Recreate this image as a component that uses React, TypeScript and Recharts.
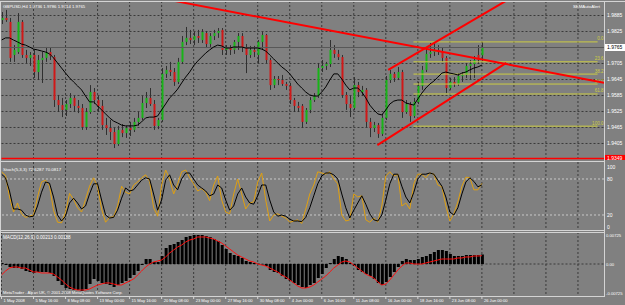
import React from 'react';
import { ComposedChart, Bar, Line, XAxis, YAxis, CartesianGrid, ReferenceLine } from 'recharts';

const FONT = '"Liberation Sans", Arial, sans-serif';
const BG = '#808080';
const GRID = '#3a3a3a';
const FRAME = '#d4d4d4';
const TXT = '#ffffff';
const UP = '#18b418';
const DOWN = '#d01818';
const WICK = '#303030';
const FIB = '#cccc44';

// ---------------- price data (GBPUSD H4, one candle per 8h sample) ----------------
const opens = [
  1.9868, 1.9876, 1.9861, 1.9737, 1.9748, 1.9861, 1.9737, 1.9726, 1.9737, 1.9673,
  1.9718, 1.9726, 1.9748, 1.9729, 1.9568, 1.9549, 1.9531, 1.9553, 1.9576, 1.9546,
  1.9538, 1.9467, 1.9523, 1.9598, 1.9568, 1.9546, 1.9474, 1.9463, 1.9448, 1.9403,
  1.9456, 1.9444, 1.9463, 1.9456, 1.9486, 1.9501, 1.9557, 1.9576, 1.9553, 1.9471,
  1.9493, 1.9666, 1.9681, 1.9673, 1.9636, 1.9711, 1.9786, 1.9801, 1.9793, 1.9808,
  1.9793, 1.9819, 1.9778, 1.9808, 1.9819, 1.9831, 1.9756, 1.9763, 1.9756, 1.9786,
  1.9808, 1.9763, 1.9737, 1.9756, 1.9737, 1.9786, 1.9812, 1.9718, 1.9624, 1.9647,
  1.9643, 1.9628, 1.9621, 1.9568, 1.9546, 1.9546, 1.9486, 1.9531, 1.9568, 1.9583,
  1.9688, 1.9696, 1.9703, 1.9756, 1.9741, 1.9729, 1.9587, 1.9553, 1.9538, 1.9624,
  1.9598, 1.9606, 1.9486, 1.9463, 1.9474, 1.9441, 1.9501, 1.9643, 1.9666, 1.9651,
  1.9673, 1.9523, 1.9553, 1.9508, 1.9561, 1.9621, 1.9681, 1.9741, 1.9748, 1.9756,
  1.9748, 1.9726, 1.9613, 1.9636, 1.9628, 1.9658, 1.9662, 1.9696, 1.9703, 1.9737,
  1.9736,
];
const highs = [
  1.9898, 1.9906, 1.9876, 1.9774, 1.9894, 1.9868, 1.9756, 1.9748, 1.9756, 1.9737,
  1.9748, 1.9767, 1.9763, 1.9737, 1.9587, 1.9576, 1.9568, 1.9594, 1.9583, 1.9568,
  1.9553, 1.9538, 1.9624, 1.9613, 1.9583, 1.9568, 1.9501, 1.9493, 1.9463, 1.9471,
  1.9478, 1.9471, 1.9486, 1.9501, 1.9523, 1.9583, 1.9598, 1.9613, 1.9568, 1.9501,
  1.9688, 1.9696, 1.9711, 1.9688, 1.9726, 1.9808, 1.9842, 1.9831, 1.9823, 1.9831,
  1.9834, 1.9827, 1.9819, 1.9831, 1.9838, 1.9838, 1.9774, 1.9774, 1.9793, 1.9819,
  1.9819, 1.9778, 1.9771, 1.9771, 1.9793, 1.9823, 1.9816, 1.9726, 1.9658, 1.9658,
  1.9662, 1.9636, 1.9632, 1.9576, 1.9561, 1.9553, 1.9538, 1.9579, 1.9594, 1.9707,
  1.9718, 1.9711, 1.9793, 1.9774, 1.9756, 1.9737, 1.9598, 1.9583, 1.9654, 1.9636,
  1.9621, 1.9613, 1.9501, 1.9486, 1.9482, 1.9516, 1.9658, 1.9681, 1.9673, 1.9692,
  1.9681, 1.9568, 1.9561, 1.9576, 1.9636, 1.9696, 1.9763, 1.9782, 1.9786, 1.9774,
  1.9763, 1.9733, 1.9651, 1.9654, 1.9669, 1.9673, 1.9707, 1.9718, 1.9733, 1.9774,
  1.9786,
];
const lows = [
  1.9853, 1.9861, 1.9711, 1.9711, 1.9741, 1.9726, 1.9707, 1.9696, 1.9651, 1.9643,
  1.9632, 1.9711, 1.9718, 1.9542, 1.9523, 1.9504, 1.9508, 1.9538, 1.9523, 1.9519,
  1.9456, 1.9456, 1.9516, 1.9553, 1.9523, 1.9456, 1.9437, 1.9418, 1.9388, 1.9396,
  1.9429, 1.9426, 1.9433, 1.9448, 1.9471, 1.9493, 1.9538, 1.9546, 1.9456, 1.9459,
  1.9486, 1.9651, 1.9658, 1.9621, 1.9628, 1.9703, 1.9774, 1.9778, 1.9774, 1.9782,
  1.9782, 1.9763, 1.9767, 1.9793, 1.9801, 1.9737, 1.9737, 1.9737, 1.9741, 1.9756,
  1.9748, 1.9669, 1.9726, 1.9729, 1.9707, 1.9756, 1.9707, 1.9606, 1.9613, 1.9624,
  1.9621, 1.9606, 1.9553, 1.9523, 1.9523, 1.9463, 1.9478, 1.9519, 1.9561, 1.9576,
  1.9673, 1.9681, 1.9692, 1.9726, 1.9718, 1.9576, 1.9531, 1.9504, 1.9531, 1.9579,
  1.9583, 1.9467, 1.9429, 1.9448, 1.9426, 1.9433, 1.9493, 1.9632, 1.9636, 1.9643,
  1.9501, 1.9516, 1.9486, 1.9501, 1.9553, 1.9606, 1.9673, 1.9726, 1.9733, 1.9737,
  1.9711, 1.9594, 1.9606, 1.9617, 1.9621, 1.9636, 1.9651, 1.9643, 1.9651, 1.9703,
  1.9714,
];
const closes = [
  1.9876, 1.9868, 1.9726, 1.9756, 1.9861, 1.9737, 1.9726, 1.9737, 1.9673, 1.9718,
  1.9726, 1.9748, 1.9733, 1.9568, 1.9549, 1.9531, 1.9553, 1.9576, 1.9546, 1.9538,
  1.9467, 1.9523, 1.9598, 1.9568, 1.9546, 1.9474, 1.9463, 1.9448, 1.9403, 1.9456,
  1.9444, 1.9463, 1.9456, 1.9486, 1.9501, 1.9557, 1.9576, 1.9553, 1.9471, 1.9493,
  1.9666, 1.9681, 1.9673, 1.9636, 1.9711, 1.9786, 1.9801, 1.9793, 1.9808, 1.9801,
  1.9823, 1.9778, 1.9808, 1.9819, 1.9827, 1.9756, 1.9763, 1.9756, 1.9786, 1.9808,
  1.9763, 1.9737, 1.9756, 1.9748, 1.9786, 1.9812, 1.9718, 1.9624, 1.9647, 1.9643,
  1.9628, 1.9621, 1.9568, 1.9546, 1.9538, 1.9486, 1.9531, 1.9568, 1.9583, 1.9688,
  1.9696, 1.9703, 1.9756, 1.9741, 1.9729, 1.9587, 1.9553, 1.9538, 1.9624, 1.9598,
  1.9606, 1.9486, 1.9463, 1.9474, 1.9441, 1.9501, 1.9643, 1.9666, 1.9651, 1.9673,
  1.9523, 1.9553, 1.9508, 1.9561, 1.9621, 1.9681, 1.9741, 1.9748, 1.9756, 1.9748,
  1.9726, 1.9613, 1.9636, 1.9628, 1.9658, 1.9662, 1.9696, 1.9703, 1.9718, 1.9718,
  1.9765,
];
const maVals = [
  1.9793, 1.9801, 1.9801, 1.9793, 1.9786, 1.9778, 1.9774, 1.9767, 1.9759, 1.9756,
  1.9752, 1.9748, 1.9741, 1.9726, 1.9707, 1.9688, 1.9669, 1.9651, 1.9636, 1.9621,
  1.9606, 1.9583, 1.9561, 1.9561, 1.9546, 1.9531, 1.9516, 1.9501, 1.9489, 1.9482,
  1.9474, 1.9471, 1.9471, 1.9471, 1.9474, 1.9486, 1.9501, 1.9504, 1.9504, 1.9508,
  1.9531, 1.9553, 1.9576, 1.9591, 1.9609, 1.9632, 1.9654, 1.9673, 1.9696, 1.9714,
  1.9729, 1.9744, 1.9756, 1.9767, 1.9774, 1.9771, 1.9763, 1.9763, 1.9767, 1.9767,
  1.9767, 1.9763, 1.9763, 1.9763, 1.9763, 1.9759, 1.9752, 1.9737, 1.9722, 1.9707,
  1.9692, 1.9681, 1.9666, 1.9647, 1.9628, 1.9613, 1.9598, 1.9587, 1.9583, 1.9583,
  1.9598, 1.9617, 1.9643, 1.9666, 1.9666, 1.9647, 1.9624, 1.9606, 1.9613, 1.9613,
  1.9598, 1.9576, 1.9549, 1.9531, 1.9516, 1.9512, 1.9531, 1.9553, 1.9564, 1.9568,
  1.9568, 1.9557, 1.9553, 1.9549, 1.9572, 1.9594, 1.9613, 1.9628, 1.9639, 1.9654,
  1.9669, 1.9673, 1.9669, 1.9666, 1.9662, 1.9669, 1.9673, 1.9681, 1.9688, 1.9692,
  1.9699,
];

// ---------------- Stochastic (5,3,3) ----------------
const stochK = [
  92, 86, 50, 25, 40, 22, 16, 18, 20, 50,
  75, 78, 68, 28, 8, 7, 25, 56, 46, 32,
  25, 46, 68, 82, 67, 30, 8, 16, 17, 35,
  68, 58, 55, 70, 75, 82, 87, 76, 32, 18,
  70, 95, 80, 55, 72, 92, 95, 82, 72, 60,
  64, 58, 44, 70, 85, 45, 25, 22, 55, 80,
  55, 30, 40, 42, 75, 90, 45, 10, 20, 22,
  18, 15, 8, 10, 12, 6, 30, 55, 70, 92,
  90, 88, 92, 80, 72, 20, 10, 12, 55, 50,
  52, 12, 8, 15, 8, 35, 85, 92, 85, 88,
  35, 40, 30, 72, 88, 88, 82, 90, 88, 70,
  67, 35, 10, 22, 42, 68, 83, 82, 62, 62,
  72.63,
];
const stochD = [
  88, 82, 60, 30, 30, 28, 20, 17, 18, 35,
  58, 75, 73, 50, 20, 10, 18, 40, 48, 40,
  30, 35, 55, 72, 72, 45, 20, 15, 16, 28,
  48, 65, 60, 62, 70, 78, 82, 80, 55, 28,
  45, 78, 87, 70, 62, 80, 90, 90, 80, 70,
  65, 60, 52, 55, 70, 65, 45, 28, 35, 55,
  65, 50, 40, 38, 52, 70, 70, 45, 25, 18,
  20, 18, 13, 10, 10, 9, 16, 32, 52, 72,
  85, 90, 90, 87, 80, 55, 32, 15, 28, 40,
  52, 38, 22, 12, 10, 20, 45, 72, 88, 88,
  68, 50, 40, 58, 80, 88, 88, 90, 88, 78,
  68, 50, 25, 20, 32, 55, 75, 82, 76, 67,
  70.08,
];

// ---------------- MACD (12,26,9) ----------------
const macdMain = [
  0.00023, -0.00023, -0.00068, -0.00091, -0.00091, -0.00113, -0.00159, -0.00181, -0.00204, -0.00181,
  -0.00181, -0.00181, -0.00204, -0.00272, -0.00385, -0.00476, -0.00544, -0.00566, -0.00589, -0.00589,
  -0.00612, -0.00566, -0.00453, -0.0034, -0.00385, -0.0043, -0.00453, -0.00476, -0.00521, -0.00476,
  -0.0043, -0.00385, -0.00317, -0.00249, -0.00159, -0.00023, 0.00113, 0.00113, 0.00045, 0.00045,
  0.00181, 0.00362, 0.0043, 0.00453, 0.00498, 0.00544, 0.00612, 0.00634, 0.00657, 0.00657,
  0.00657, 0.00634, 0.00612, 0.00566, 0.00521, 0.0043, 0.0034, 0.00249, 0.00204, 0.00181,
  0.00136, 0.00068, 0.00045, 0.00023, 0.00005, -0.0001, -0.00045, -0.00136, -0.00181, -0.00204,
  -0.00272, -0.0034, -0.00385, -0.0043, -0.00476, -0.00521, -0.00544, -0.00476, -0.0043, -0.00317,
  -0.00227, -0.00091, 0.00023, 0.00113, 0.00181, 0.00159, 0.00113, 0.00023, -0.00045, -0.00136,
  -0.00181, -0.00227, -0.00272, -0.0034, -0.0043, -0.00476, -0.00408, -0.00295, -0.00181, -0.00068,
  0.00068, 0.00113, 0.00091, 0.00091, 0.00113, 0.00159, 0.00181, 0.00227, 0.00272, 0.00317,
  0.00317, 0.00295, 0.00227, 0.00181, 0.00181, 0.00181, 0.00204, 0.00204, 0.00204, 0.00204,
  0.00213,
];
const macdSignal = [
  -0.00249, -0.00159, -0.00091, -0.00068, -0.00068, -0.00091, -0.00091, -0.00136, -0.00181, -0.00181,
  -0.00204, -0.00204, -0.00204, -0.00227, -0.00295, -0.00362, -0.00453, -0.00521, -0.00566, -0.00589,
  -0.00589, -0.00589, -0.00566, -0.00521, -0.00476, -0.00453, -0.0043, -0.0043, -0.00453, -0.00476,
  -0.00476, -0.0043, -0.00385, -0.0034, -0.00249, -0.00159, -0.00068, 0, 0.00045, 0.00068,
  0.00091, 0.00159, 0.00249, 0.00317, 0.00385, 0.0043, 0.00498, 0.00544, 0.00566, 0.00612,
  0.00612, 0.00612, 0.00589, 0.00566, 0.00521, 0.00476, 0.00408, 0.0034, 0.00272, 0.00204,
  0.00159, 0.00113, 0.00068, 0.00045, 0, -0.00023, -0.00045, -0.00091, -0.00136, -0.00181,
  -0.00249, -0.00295, -0.00362, -0.0043, -0.00498, -0.00544, -0.00544, -0.00521, -0.00476, -0.00408,
  -0.0034, -0.00272, -0.00181, -0.00091, -0.00023, 0.00045, 0.00068, 0.00045, -0.00023, -0.00091,
  -0.00159, -0.00227, -0.00272, -0.00317, -0.00408, -0.00476, -0.00453, -0.00362, -0.00249, -0.00136,
  -0.00045, 0.00023, 0.00023, 0, 0, 0, 0.00023, 0.00045, 0.00068, 0.00091,
  0.00113, 0.00113, 0.00113, 0.00113, 0.00136, 0.00136, 0.00159, 0.00159, 0.00181, 0.00181,
  0.00188,
];

// ---------------- axes / labels / objects ----------------
const timeLabels = [
  '1 May 2008', '5 May 16:00', '8 May 08:00', '13 May 00:00', '15 May 16:00', '20 May 08:00',
  '23 May 00:00', '27 May 16:00', '30 May 08:00', '4 Jun 00:00', '6 Jun 16:00', '11 Jun 08:00',
  '16 Jun 00:00', '18 Jun 16:00', '23 Jun 08:00', '26 Jun 00:00',
];
const timeTickIdx = [0, 8, 16, 24, 32, 40, 48, 56, 64, 72, 80, 88, 96, 104, 112, 120];
const gridIdx = [0, 8, 16, 24, 32, 40, 48, 56, 64, 72, 80, 88, 96, 104, 112, 120, 128, 136, 144];
const priceTicks = [1.9885, 1.9825, 1.9705, 1.9645, 1.9585, 1.9525, 1.9465, 1.9405];
const priceGrid = [1.9885, 1.9825, 1.9765, 1.9705, 1.9645, 1.9585, 1.9525, 1.9465, 1.9405];
const bidPrice = 1.9765;
const hLinePrice = 1.9349;
const fibHigh = 1.9786;
const fibLow = 1.947;
const fibRatios = [0, 23.6, 38.2, 50, 61.8, 100];
const fibStartIdx = 102.9;
const fibEndIdx = 148.9;
const trendLines = [
  { x1: 43.4, p1: 1.9939, x2: 150.5, p2: 1.9633 },
  { x1: 96.6, p1: 1.9681, x2: 125.9, p2: 1.9939 },
  { x1: 93.9, p1: 1.9399, x2: 126.1, p2: 1.9707 },
];
const stochTicks = [0, 20, 80, 100];
const stochLevels = [20, 80];
const macdTicks = [0.00725, 0, -0.00725];

const X_DOMAIN: [number, number] = [0, 150.5];
const MAIN_DOMAIN: [number, number] = [1.93431, 1.99394];
const STOCH_DOMAIN: [number, number] = [-5, 108.33];
const MACD_DOMAIN: [number, number] = [-0.00725, 0.00725];

const mainData = closes.map((c, i) => ({
  i, o: opens[i], h: highs[i], l: lows[i], c, range: [lows[i], highs[i]], ma: maVals[i],
}));
const stochData = stochK.map((k, i) => ({ i, k, d: stochD[i] }));
const macdData = macdMain.map((m, i) => ({ i, m, s: macdSignal[i] }));

// ---------------- render helpers ----------------
function Candle(props: any) {
  const { x, y, width, height, payload } = props;
  if (!payload || height == null || isNaN(y)) return null;
  const cx = Math.round(x + width / 2) + 0.5;
  const span = payload.h - payload.l;
  const k = span > 0 ? height / span : 0;
  const yo = y + (payload.h - payload.o) * k;
  const yc = y + (payload.h - payload.c) * k;
  const top = Math.min(yo, yc);
  const bh = Math.max(1, Math.abs(yc - yo));
  const up = payload.c >= payload.o;
  return (
    <g>
      <line x1={cx} x2={cx} y1={y} y2={y + height} stroke={WICK} strokeWidth={1} />
      <rect x={cx - 1} y={top} width={2} height={bh} fill={up ? UP : DOWN} />
    </g>
  );
}

function RightTick(props: any) {
  const { x, y, payload, fmt, dyFn, fs } = props;
  const dy = dyFn ? dyFn(payload.value) : 0;
  return (
    <text x={x} y={y + 1.8 + dy} fill={TXT} fontSize={fs || 5} fontFamily={FONT} textAnchor="start">
      {fmt(payload.value)}
    </text>
  );
}

function TimeTick(props: any) {
  const { x, y, payload } = props;
  const idx = timeTickIdx.indexOf(payload.value);
  return (
    <g>
      <line x1={x} x2={x} y1={y} y2={y + 3} stroke={FRAME} strokeWidth={1} />
      <text x={x + 2} y={y + 6} fill={TXT} fontSize={4.1} fontFamily={FONT} textAnchor="start">
        {timeLabels[idx]}
      </text>
    </g>
  );
}

function FibLabel(props: any) {
  const vb = props.viewBox;
  if (!vb) return null;
  return (
    <text x={vb.x + vb.width + 6} y={vb.y - 1.5} fill={FIB} fontSize={4.6} fontFamily={FONT} textAnchor="end">
      {props.txt}
    </text>
  );
}

function PriceBox(props: any) {
  const vb = props.viewBox;
  if (!vb) return null;
  const x = vb.x + vb.width + 1;
  return (
    <g>
      <rect x={x} y={vb.y - 3.5} width={21} height={7} fill={props.bg} />
      <text x={x + 2} y={vb.y + 1.8} fill={props.fg} fontSize={5} fontFamily={FONT}>
        {props.txt}
      </text>
    </g>
  );
}

const hLine = (style: React.CSSProperties) => (
  <div style={{ position: 'absolute', background: FRAME, ...style }} />
);

export default function App() {
  return (
    <div style={{ position: 'fixed', left: 0, top: 0, width: 625, height: 305, background: BG, overflow: 'hidden', fontFamily: FONT }}>
      {/* main price panel */}
      <div style={{ position: 'absolute', left: 0, top: 0 }}>
        <ComposedChart width={625} height={160} data={mainData} margin={{ top: 1, right: 0, bottom: 0, left: 1.5 }}>
          <CartesianGrid stroke={GRID} strokeDasharray="2 2" horizontalValues={priceGrid} verticalValues={gridIdx} />
          <XAxis dataKey="i" type="number" domain={X_DOMAIN} hide allowDataOverflow />
          <YAxis
            orientation="right" width={21} type="number" domain={MAIN_DOMAIN} allowDataOverflow
            ticks={priceTicks} interval={0} tickLine={false} axisLine={false} tickSize={0} tickMargin={3}
            tick={<RightTick fmt={(v: number) => v.toFixed(4)} />}
          />
          {fibRatios.map((r) => {
            const p = fibHigh - (fibHigh - fibLow) * r / 100;
            return (
              <ReferenceLine
                key={'fib' + r}
                segment={[{ x: fibStartIdx, y: p }, { x: fibEndIdx, y: p }]}
                stroke={FIB} strokeWidth={1}
                label={<FibLabel txt={r.toFixed(1)} />}
              />
            );
          })}
          <ReferenceLine y={bidPrice} stroke="#585858" strokeWidth={1} label={<PriceBox txt="1.9765" bg="#ffffff" fg="#000000" />} />
          <ReferenceLine y={hLinePrice} stroke="#ff0000" strokeWidth={1.5} label={<PriceBox txt="1.9349" bg="#ff0000" fg="#ffffff" />} />
          <Bar dataKey="range" shape={<Candle />} barSize={3} isAnimationActive={false} />
          <Line dataKey="ma" stroke="#000000" strokeWidth={1} dot={false} activeDot={false} isAnimationActive={false} />
          {trendLines.map((t, n) => (
            <ReferenceLine
              key={'tl' + n}
              segment={[{ x: t.x1, y: t.p1 }, { x: t.x2, y: t.p2 }]}
              stroke="#ff0000" strokeWidth={2} ifOverflow="hidden"
            />
          ))}
        </ComposedChart>
      </div>

      {/* stochastic panel */}
      <div style={{ position: 'absolute', left: 0, top: 162 }}>
        <ComposedChart width={625} height={68} data={stochData} margin={{ top: 0, right: 0, bottom: 0, left: 1.5 }}>
          <CartesianGrid stroke={GRID} strokeDasharray="2 2" horizontal={false} verticalValues={gridIdx} />
          <XAxis dataKey="i" type="number" domain={X_DOMAIN} hide allowDataOverflow />
          <YAxis
            orientation="right" width={21} type="number" domain={STOCH_DOMAIN} allowDataOverflow
            ticks={stochTicks} interval={0} tickLine={false} axisLine={false} tickSize={0} tickMargin={3}
            tick={<RightTick fmt={(v: number) => String(v)} />}
          />
          {stochLevels.map((lv) => (
            <ReferenceLine key={'lv' + lv} y={lv} stroke="#c8c8c8" strokeDasharray="2 2" strokeWidth={1} />
          ))}
          <Line dataKey="k" stroke="#e0a010" strokeWidth={1} dot={false} activeDot={false} isAnimationActive={false} />
          <Line dataKey="d" stroke="#000000" strokeWidth={1} dot={false} activeDot={false} isAnimationActive={false} />
        </ComposedChart>
      </div>

      {/* MACD panel */}
      <div style={{ position: 'absolute', left: 0, top: 232 }}>
        <ComposedChart width={625} height={73} data={macdData} margin={{ top: 0, right: 0, bottom: 0, left: 1.5 }}>
          <CartesianGrid stroke={GRID} strokeDasharray="2 2" horizontalValues={[0]} verticalValues={gridIdx} />
          <XAxis
            dataKey="i" type="number" domain={X_DOMAIN} allowDataOverflow height={9}
            ticks={timeTickIdx} interval={0} tickLine={false} axisLine={false} tickSize={0} tickMargin={0}
            tick={<TimeTick />}
          />
          <YAxis
            orientation="right" width={21} type="number" domain={MACD_DOMAIN} allowDataOverflow
            ticks={macdTicks} interval={0} tickLine={false} axisLine={false} tickSize={0} tickMargin={2}
            tick={<RightTick fs={4.2} fmt={(v: number) => (v === 0 ? '0.00' : v.toFixed(5))} dyFn={(v: number) => (v > 0 ? 3 : v < 0 ? -3 : 0)} />}
          />
          <Bar dataKey="m" fill="#000000" barSize={3} isAnimationActive={false} />
          <Line dataKey="s" stroke="#ff1010" strokeWidth={1} dot={false} activeDot={false} isAnimationActive={false} />
        </ComposedChart>
      </div>

      {/* panel frames */}
      {hLine({ left: 0, top: 1, width: 625, height: 1 })}
      {hLine({ left: 0, top: 161, width: 605, height: 1 })}
      {hLine({ left: 0, top: 230, width: 605, height: 1 })}
      {hLine({ left: 0, top: 232, width: 605, height: 1 })}
      {hLine({ left: 0, top: 296, width: 605, height: 1 })}
      {hLine({ left: 0, top: 1, width: 1, height: 296 })}
      {hLine({ left: 604, top: 1, width: 1, height: 296 })}

      {/* titles */}
      <svg width={625} height={305} style={{ position: 'absolute', left: 0, top: 0, pointerEvents: 'none' }}>
        <text x={3} y={8} fill={TXT} fontSize={4.3} fontFamily={FONT}>GBPUSD,H4 1.9736 1.9786 1.9714 1.9765</text>
        <text x={600} y={7.5} fill={TXT} fontSize={4.3} fontFamily={FONT} textAnchor="end">SEMAutoAlert</text>
        <text x={3} y={171} fill={TXT} fontSize={4.4} fontFamily={FONT}>Stoch(5,3,3) 72.6287 70.0817</text>
        <text x={3} y={239} fill={TXT} fontSize={4.6} fontFamily={FONT}>MACD(12,26,9) 0.00213 0.00188</text>
        <text x={3} y={294} fill={TXT} fontSize={4.1} fontFamily={FONT}>MetaTrader - Alpari UK, © 2001-2008 MetaQuotes Software Corp.</text>
      </svg>
    </div>
  );
}
